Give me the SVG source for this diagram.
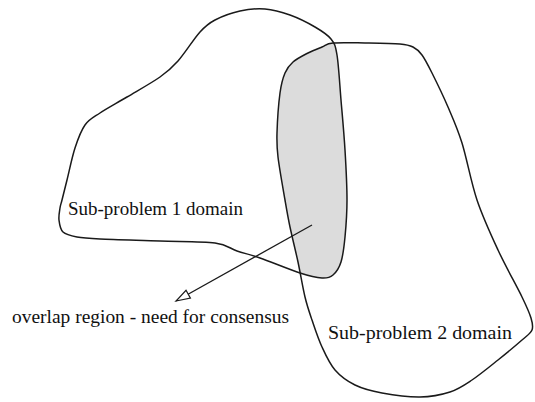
<svg xmlns="http://www.w3.org/2000/svg" width="535" height="402" viewBox="0 0 535 402">
  <style>
    .outline { fill: none; stroke: #1a1a1a; stroke-width: 1.5; stroke-linejoin: round; }
    .overlap { fill: #dcdcdc; stroke: none; }
    .label { font-family: 'Liberation Serif', 'Times New Roman', serif; font-size: 19px; fill: #111; }
    .conn { stroke: #1a1a1a; stroke-width: 1.3; fill: none; }
  </style>
  <defs>
    <path id="shape1" d="M62,200 C63.17,195.33 64.83,188.67 67,180 S72,157.17 75,148 S80.83,130.83 85,125 S93,117.67 100,113 S117,103 127,97 S151.5,83 160,77 S171.33,68.5 178,61 S193.83,38.83 200,32 S208.33,23.5 215,20 S231.67,12.83 240,11 S256.67,8.33 265,9 S281.67,12 290,15 S308.17,23 315,27 S327.33,34.33 331,39 S335.33,44.83 337,55 S339.67,84.17 341,100 S344,133.33 345,150 S347,185.5 347,200 S346,226.67 345,237 S343,255.67 341,262 S336.17,272.33 333,275 S327.5,278.33 322,278 S310.33,276.33 300,273 S270.5,261.67 260,258 S244.5,253.5 237,251 S227.83,244.67 215,243 S179.17,241.67 160,241 S113.83,239.67 100,239 S83.17,238.17 77,237 S66,234.83 63,232 S59.5,224 59,220 S59.5,211.33 60,208 S60.83,204.67 62,200 Z"/>
    <path id="shape2" d="M333,43 C340.17,42.33 353.83,42.83 365,43 S392,43.33 400,44 S409.33,45.17 413,47 S418.83,50.67 422,55 S427.67,64.33 432,73 S443,95.33 448,107 S457.17,127.5 462,143 S471,182.17 477,200 S490.5,233.83 498,250 S516.5,285.67 522,297 S529.33,312.5 531,318 S533.5,326.33 532,330 S527.67,335 522,340 S506.33,353.33 498,360 S480,374.67 472,380 S458.67,389.17 450,392 S431.33,396.83 420,397 S392.83,395 382,393 S362.83,388.83 355,385 S340.5,376.33 335,370 S325.83,355.33 322,347 S314.83,328.33 312,320 S307.33,306.67 305,297 S300.5,273.67 298,262 S292.17,237.33 290,227 S287,211.67 285,200 S279.33,168.17 278,157 S276.67,143.67 277,133 S278.67,103 280,93 S282.83,78.17 285,73 S289.17,65.33 293,62 S303.17,55.5 308,53 S317.83,48.67 322,47 S325.83,43.67 333,43 Z"/>
    <clipPath id="clip2">
      <use href="#shape2"/>
    </clipPath>
    <marker id="openArrow" markerUnits="userSpaceOnUse" markerWidth="20" markerHeight="14" refX="16" refY="7" orient="auto" overflow="visible">
      <path d="M16,7 L2,2.5 L2,11.5 Z" fill="#ffffff" stroke="#1a1a1a" stroke-width="1.2" stroke-linejoin="miter"/>
    </marker>
  </defs>

  <g id="overlap-region">
    <use href="#shape1" class="overlap" clip-path="url(#clip2)"/>
  </g>

  <g id="subproblem1">
    <use href="#shape1" class="outline"/>
    <text class="label" x="68" y="215" textLength="175" lengthAdjust="spacingAndGlyphs">Sub-problem 1 domain</text>
  </g>

  <g id="subproblem2">
    <use href="#shape2" class="outline"/>
    <text class="label" x="328" y="339" textLength="184" lengthAdjust="spacingAndGlyphs">Sub-problem 2 domain</text>
  </g>

  <g id="connectors">
    <line class="conn" x1="312" y1="225" x2="176" y2="301" marker-end="url(#openArrow)"/>
  </g>

  <g id="overlap-label">
    <text class="label" x="12" y="323" textLength="277" lengthAdjust="spacingAndGlyphs">overlap region - need for consensus</text>
  </g>
</svg>
